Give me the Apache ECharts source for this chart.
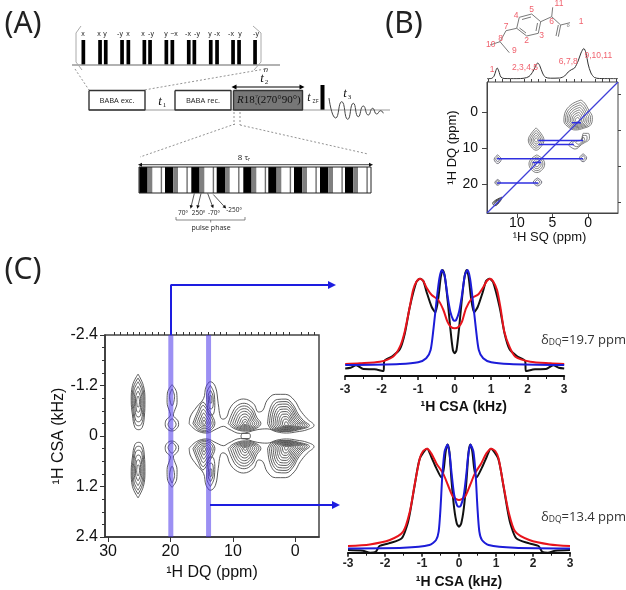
<!DOCTYPE html>
<html><head><meta charset="utf-8">
<style>html,body{margin:0;padding:0;background:#fff}#c{width:626px;height:590px}</style>
<script src="https://cdn.jsdelivr.net/npm/echarts@6/dist/echarts.min.js"></script>
</head><body><div id="c"></div>
<script>
// ---------- panel C: 1H CSA slices [kHz, intensity] ----------
const topRed=[[-3,.12],[-2.6,.127],[-2.05,.143],[-1.69,.193],[-1.5,.293],[-1.37,.443],[-1.23,.693],[-1.14,.86],[-1.05,.943],[-.95,.973],[-.86,.95],[-.77,.883],[-.63,.81],[-.45,.76],[-.31,.66],[-.2,.543],[-.11,.493],[0,.477],[.11,.493],[.2,.543],[.31,.677],[.47,.777],[.65,.817],[.79,.893],[.88,.95],[.97,.973],[1.06,.943],[1.16,.86],[1.25,.693],[1.36,.443],[1.5,.293],[1.66,.193],[2.07,.143],[2.62,.127],[3,.12]];
const topBlack=[[-3,.075],[-2.85,.083],[-2.7,.107],[-2.5,.07],[-2.2,.067],[-1.95,.05],[-1.93,.15],[-1.7,.2],[-1.5,.27],[-1.37,.42],[-1.23,.69],[-1.05,.94],[-.95,.973],[-.86,.95],[-.77,.84],[-.63,.69],[-.53,.637],[-.45,.777],[-.38,.993],[-.33,1.06],[-.27,.993],[-.19,.743],[-.12,.477],[-.05,.26],[0,.227],[.05,.26],[.12,.477],[.19,.743],[.27,.993],[.33,1.06],[.38,.993],[.45,.777],[.53,.637],[.63,.69],[.77,.84],[.86,.95],[.95,.973],[1.05,.94],[1.23,.69],[1.37,.42],[1.5,.27],[1.7,.2],[1.93,.15],[1.95,.05],[2.2,.067],[2.5,.07],[2.7,.107],[2.85,.083],[3,.075]];
const topBlue=[[-3,.11],[-1.5,.12],[-1,.137],[-.78,.177],[-.66,.26],[-.58,.477],[-.5,.743],[-.42,.977],[-.35,1.06],[-.28,1.01],[-.2,.81],[-.12,.643],[-.04,.56],[0,.553],[.04,.56],[.12,.643],[.2,.81],[.28,1.01],[.35,1.06],[.42,.977],[.5,.743],[.58,.477],[.66,.26],[.78,.177],[1,.137],[1.5,.12],[3,.11]];
const botRed=[[-3,.067],[-2.41,.083],[-1.87,.127],[-1.51,.21],[-1.33,.41],[-1.2,.677],[-1.06,.943],[-.97,1.017],[-.86,1.04],[-.75,.993],[-.61,.893],[-.43,.793],[-.3,.677],[-.16,.56],[0,.527],[.16,.56],[.3,.677],[.43,.793],[.6,.893],[.74,.993],[.87,1.04],[.98,1.017],[1.07,.943],[1.2,.677],[1.34,.41],[1.52,.21],[1.9,.127],[2.45,.083],[3,.067]];
const botBlack=[[-3,.027],[-2.6,.02],[-2.4,0],[-2.25,.01],[-2.15,.067],[-1.9,.093],[-1.55,.143],[-1.4,.277],[-1.33,.39],[-1.2,.67],[-1.06,.94],[-.86,1.04],[-.75,.96],[-.61,.843],[-.47,.75],[-.41,.843],[-.36,1.01],[-.31,1.083],[-.26,1.01],[-.2,.71],[-.13,.443],[-.06,.293],[0,.26],[.06,.293],[.13,.443],[.2,.71],[.26,1.01],[.31,1.083],[.36,1.01],[.41,.843],[.47,.75],[.61,.843],[.75,.96],[.86,1.04],[1.06,.94],[1.2,.67],[1.33,.39],[1.4,.277],[1.55,.143],[1.9,.093],[2.15,.067],[2.25,.01],[2.4,0],[2.6,.02],[3,.027]];
const botBlue=[[-3,.043],[-1.5,.05],[-.8,.077],[-.62,.127],[-.55,.21],[-.5,.443],[-.45,.777],[-.39,1.01],[-.31,1.083],[-.25,.977],[-.2,.793],[-.13,.577],[-.05,.47],[0,.46],[.05,.47],[.13,.577],[.2,.793],[.25,.977],[.31,1.083],[.39,1.01],[.45,.777],[.5,.443],[.55,.21],[.62,.127],[.8,.077],[1.5,.05],[3,.043]];
// ---------- panel C: 2D contours, upper half [ppm, kHz] ----------
const outerAll=[[17,-.29],[16.85,-.45],[15.8,-.69],[14.7,-.89],[14.3,-1.17],[13.6,-1.29],[12.8,-1.17],[12.35,-.77],[12,-.45],[11.6,-.4],[11,-.45],[10.5,-.65],[9.6,-.81],[8.3,-.88],[6.7,-.77],[5.9,-.57],[5.2,-.61],[4.5,-.85],[3.2,-.99],[1.6,-.99],[.16,-.85],[-.8,-.61],[-1.9,-.41],[-3,-.25],[-1.9,-.15],[-.27,-.1],[1.4,-.07],[3,-.1],[4.5,-.17],[6.1,-.15],[8.8,-.06],[10.7,-.17],[11.5,-.23],[12.6,-.17],[14.2,-.07],[15.8,-.13]];
const lobe25=[[25.2,-1.47],[24.35,-1.2],[24.1,-.85],[24.2,-.45],[24.55,-.2],[25.1,-.15],[25.7,-.2],[26.1,-.5],[26.3,-.85],[26.1,-1.2]];
const levels25=[1,.86,.72,.55,.38,.2];
const center25=[25.2,-.82];
const peanut20=[[19.75,-1.22],[19,-1.02],[18.95,-.8],[19.4,-.58],[19.55,-.5],[18.8,-.36],[18.7,-.27],[19.2,-.15],[19.75,-.12],[20.4,-.15],[20.85,-.27],[20.7,-.38],[20,-.5],[20.15,-.58],[20.55,-.8],[20.5,-1.02]];
const inner20a=[[19.75,-1.12],[19.35,-.94],[19.75,-.72],[20.15,-.94]];
const inner20b=[[19.75,-.42],[19.1,-.28],[19.75,-.16],[20.4,-.28]];
const lobe14=[[16.5,-.3],[15.7,-.6],[14.8,-.83],[14.1,-.7],[13.1,-.45],[12.8,-.3],[13.4,-.14],[14.5,-.09],[15.7,-.15]];
const levels14=[.95,.8,.62,.45,.28,.14];
const center14=[14.6,-.31];
const lobe13=[[13.6,-1.2],[13,-1],[12.9,-.72],[13.3,-.5],[13.8,-.5],[14.1,-.72],[14.2,-1]];
const levels13=[1,.62,.28];
const center13=[13.55,-.89];
const lobe8=[[11,-.3],[10.2,-.6],[9.4,-.76],[8.2,-.82],[6.8,-.7],[6,-.45],[5.3,-.3],[6,-.18],[8,-.1],[10,-.17]];
const levels8=[.92,.8,.68,.56,.44,.32,.2,.1];
const center8=[8,-.29];
const lobe1=[[4.7,-.3],[4.2,-.72],[3,-.92],[1.5,-.93],[.25,-.78],[-.6,-.55],[-1.6,-.37],[-2.6,-.25],[-.5,-.13],[1.5,-.09],[4,-.15]];
const levels1=[.92,.83,.74,.65,.56,.47,.38,.29,.2,.1];
const center1=[1.4,-.27];
const bridge8=[[8.5,-.06],[7.4,-.06],[7.2,0],[7.4,.06],[8.5,.06],[8.7,0]];
// ---------- panel B: 1D projection and 2D contours ----------
const proj1D=[[14.2,.3],[13.6,.5],[13.2,3],[12.95,8.5],[12.77,11],[12.55,8],[12.25,2],[11.8,.5],[10,.3],[9,.8],[8.3,2.5],[7.7,8],[7.3,14],[7.08,16],[6.8,13.5],[6.4,6],[6,1.8],[5.3,.8],[4,1],[3.3,3],[2.8,7],[2.3,9.5],[1.9,11],[1.4,18],[1,26],[.6,30.5],[.3,26],[0,15],[-.4,6],[-.9,1.5],[-1.6,.5],[-4.2,.3]];
const bTear=[[1,-3.3],[2.4,-2],[3.3,.5],[3.4,2.5],[2.7,4.3],[1.8,5],[.6,4.5],[-.4,3.5],[-.6,1.5],[-.1,-.5],[.5,-2.5]];
const bTearLevels=[1,.88,.76,.64,.52,.4,.28,.16];
const bTearCenter=[1.5,2.4];
const b7a=[[7.3,4.4],[6.6,6],[6.2,7.8],[6.6,9.6],[7.3,10.6],[8,9.6],[8.4,7.8],[8,6]];
const b7aLevels=[1,.8,.6,.4,.2];
const b7aCenter=[7.3,7.8];
const bTail=[[2.77,9.17],[2.2,8.05],[.89,7.78],[.66,5.93],[-.05,5.93],[-.19,7.31],[.89,8.98],[1.83,10.28]];
const bTailLevels=[1,.72,.42];
const bTailCenter=[1,8];
const b7b=[[7.2,11.9],[6.4,13],[6.1,14.4],[6.4,15.9],[7.2,16.8],[8,15.9],[8.3,14.4],[8,13]];
const b7bLevels=[1,.78,.55,.32];
const b7bCenter=[7.2,14.4];
const bSmall=[[[12.7,11.9],[12.2,13.1],[12.7,14.3],[13.2,13.1]],[[.7,11.6],[.2,12.7],[.7,13.8],[1.2,12.7]],[[7.1,18.3],[6.5,19.4],[7.1,20.5],[7.7,19.4]],[[12.7,18.7],[12.3,19.5],[12.7,20.3],[13.1,19.5]],[[12.1,23.6],[12.3,24.6],[13.1,26],[13.4,25.3]]];
const bSmallLevels=[1,.55];
const bLinks=[[[7,7.9],[.7,7.9]],[[7,9],[2,9]],[[12.8,13],[.7,13]],[[12.8,19.7],[7,19.7]],[[2.3,3],[1,3]],[[7.8,14],[6.6,14]]];
const bDiagonal=[[14.2,28],[-4.2,-8.3]];
// ---------- tick labels ----------
const bXTicks=[10,5,0], bXMinor=[14,13,12,11,9,8,7,6,4,3,2,1,-1,-2,-3,-4];
const bYTicks=[0,10,20], bYMinor=[-5,5,15,25];
const cXTicks=[30,20,10,0];
const cXMinor=[29,28,27,26,25,24,23,22,21,19,18,17,16,15,14,13,12,11,9,8,7,6,5,4,3,2,1,-1,-2,-3];
const dqSlices=[19.95,13.9];
// ---------- panel A pulse sequence (schematic page coordinates) ----------
const babaPulses=[83.3,100,105.7,122,128.3,144.3,150,166.3,172.3,188.7,194.3,210.7,217,233,239,255];
const babaLabels=[[83,'x'],[99,'x'],[105,'y'],[120,'-y'],[128,'x'],[143,'x'],[151,'-y'],[166,'y'],[174,'−x'],[188,'-x'],[197,'-y'],[210,'y'],[217,'-x'],[231,'-x'],[240,'y'],[256,'-y']];
const r18Black=[139.3,165,191.3,216.7,243.3,268.3,294,320,345];
const fidTrace=[[329,98],[335.7,118],[341.7,101.7],[347.7,119.3],[353.3,103.3],[358.3,116.7],[363.3,106],[368.3,115],[372.7,108.3],[376.7,114],[380.7,110.7],[383.3,113.3]];
const molBonds=[[[519.3,17.3],[531.7,14],[540.7,21.7],[538.3,33.3],[526.7,36],[516.7,28.3],[519.3,17.3]],[[522,19.5],[531,17]],[[537.5,23],[536,31]],[[526,33],[519.5,28]],[[516.7,28.3],[506,30.7],[500,41.7],[509.3,52.7]],[[500,41.7],[490,45]],[[540.7,21.7],[551.7,16.7],[552.7,7.3]],[[551.7,16.7],[560.7,25],[570,22.7]],[[560.7,25],[558.3,36.7]],[[558.3,25],[556,36]]];
const molLabels=[['11',559,4],['5',531.7,10],['4',516,15.3],['6',551.7,21.7],['1',581,22],['7',506,26.7],['3',541.7,35.3],['2',526.7,40.7],['8',500.7,38.7],['10',490.7,44.3],['9',514.3,51],['1',492,70],['2,3,4,5',525,67.7],['6,7,8',568.3,61.3],['9,10,11',598.3,56]];

// ---------- builders ----------
const nest=(o,c,lv)=>lv.map(k=>o.map(p=>[c[0]+(p[0]-c[0])*k,c[1]+(p[1]-c[1])*k]));
const close=p=>p.concat([p[0]]);
const flip=p=>p.map(q=>[q[0],-q[1]]);
const series=[];
const contour=(pts,xi,yi,color,w)=>series.push({type:'line',xAxisIndex:xi,yAxisIndex:yi,data:close(pts),smooth:.4,symbol:'none',silent:true,animation:false,lineStyle:{color,width:w},z:3});
const plain=(pts,xi,yi,color,w,extra)=>series.push(Object.assign({type:'line',xAxisIndex:xi,yAxisIndex:yi,data:pts,symbol:'none',silent:true,animation:false,lineStyle:Object.assign({color,width:w},(extra||{}).ls||{}),z:4},extra&&extra.s||{}));
const seg=(pts,color,w,dash)=>plain(pts,0,0,color,w,{ls:dash?{type:dash}:{},s:{z:6}});
const arrow=(pts,color,w,sz,both)=>{
  const rot=(a,b)=>Math.atan2(-(b[0]-a[0]),-(b[1]-a[1]))*180/Math.PI;
  const n=pts.length;
  const d=pts.map((p,i)=>{
    if(i===n-1) return {value:p,symbol:'triangle',symbolSize:sz,symbolRotate:rot(pts[n-2],p),itemStyle:{color}};
    if(i===0&&both) return {value:p,symbol:'triangle',symbolSize:sz,symbolRotate:rot(pts[1],p),itemStyle:{color}};
    return {value:p,symbol:'none'};
  });
  series.push({type:'line',xAxisIndex:0,yAxisIndex:0,data:d,showAllSymbol:true,symbol:'none',silent:true,animation:false,lineStyle:{color,width:w},z:6});
};
const rects=(list,color)=>series.push({type:'custom',xAxisIndex:0,yAxisIndex:0,data:list,silent:true,animation:false,z:5,encode:{x:0,y:1},
  renderItem:(p,api)=>{const a=api.coord([api.value(0),api.value(1)]),b=api.coord([api.value(0)+api.value(2),api.value(1)+api.value(3)]);
    return {type:'rect',shape:{x:a[0],y:a[1],width:b[0]-a[0],height:b[1]-a[1]},style:{fill:color}};}});

[p=>p,flip].forEach(f=>{
  const cs=(pts)=>contour(f(pts),3,3,'#4a4a4a',.9);
  nest(lobe25,center25,levels25).forEach(cs);
  cs(peanut20);cs(inner20a);cs(inner20b);
  cs(outerAll);
  nest(lobe14,center14,levels14).forEach(cs);
  nest(lobe13,center13,levels13).forEach(cs);
  nest(lobe8,center8,levels8).forEach(cs);
  nest(lobe1,center1,levels1).forEach(cs);
});
contour(bridge8,3,3,'#4a4a4a',.9);
dqSlices.forEach(v=>plain([[v,-2.4],[v,2.4]],3,3,'#4a35ea',5,{ls:{opacity:.55},s:{z:5}}));
[[topBlack,'#111'],[topRed,'#e8141c'],[topBlue,'#1c1cd8']].forEach(s=>plain(s[0],4,4,s[1],2,{s:{smooth:.25}}));
[[botBlack,'#111'],[botRed,'#e8141c'],[botBlue,'#1c1cd8']].forEach(s=>plain(s[0],5,5,s[1],2,{s:{smooth:.25}}));
const bc=(pts,col)=>contour(pts,1,1,col||'#606060',.8);
nest(bTear,bTearCenter,bTearLevels).forEach(p=>bc(p));
nest(b7a,b7aCenter,b7aLevels).forEach(p=>bc(p));
nest(bTail,bTailCenter,bTailLevels).forEach(p=>bc(p));
nest(b7b,b7bCenter,b7bLevels).forEach(p=>bc(p));
bSmall.forEach((s,i)=>{const c=[s.reduce((a,q)=>a+q[0],0)/4,s.reduce((a,q)=>a+q[1],0)/4];
  nest(s,c,i===4?[1,.7,.4]:bSmallLevels).forEach(p=>bc(p,i===4?'#111':'#505060'));});
plain(bDiagonal,1,1,'#3f3fd8',1.2);
bLinks.forEach(l=>plain(l,1,1,'#2f2fe0',1.5));
plain(proj1D,2,2,'#333',1,{s:{smooth:.3}});

rects(babaPulses.map(x=>[x-1.8,40,3.7,25]),'#000');
seg([[72,65],[280,65]],'#999',1.6);
seg([[81,26],[76,33],[76,62],[82,70]],'#aaa',1);
seg([[253,26],[261,33],[261,62],[254,70]],'#aaa',1);
seg([[75,69],[89,90]],'#777',.8,[2,2]);
seg([[265,69],[144,90]],'#777',.8,[2,2]);
seg([[89,110],[390,110]],'#999',1);
rects([[233.5,90.5,69,19.5]],'#777');
[[89,90.5,56,19.5],[175,90.5,56,19.5],[233.5,90.5,69,19.5]].forEach(b=>seg([[b[0],b[1]],[b[0]+b[2],b[1]],[b[0]+b[2],b[1]+b[3]],[b[0],b[1]+b[3]],[b[0],b[1]]],'#333',1.4));
rects([[320.5,85,4,25]],'#000');
arrow([[234,87],[302,87]],'#000',1,5,true);
plain(fidTrace,0,0,'#444',1,{s:{smooth:.6,z:6}});
seg([[234,112],[234,125]],'#777',.8,[2,2]);
seg([[240,112],[240,125]],'#777',.8,[2,2]);
seg([[235,124],[140,157]],'#777',.8,[2,2]);
seg([[240,125],[368,154]],'#777',.8,[2,2]);
arrow([[140,164.7],[371,164.7]],'#111',.8,4,true);
rects(r18Black.map(x=>[x,167,8.3,26]),'#000');
rects(r18Black.map(x=>[x+8.3,167,4.7,26]),'#808080');
rects(r18Black.map(x=>[x+21.4,167,1.4,26]),'#707070');
[[[139,167],[371,167],[371,193],[139,193],[139,167]]].forEach(p=>seg(p,'#222',1));
arrow([[194.3,193.5],[191,207]],'#111',.7,3.5);
arrow([[201,193.5],[197.7,207]],'#111',.7,3.5);
arrow([[207.7,193.5],[212.7,206.7]],'#111',.7,3.5);
arrow([[213.3,194.5],[225,207.3]],'#111',.7,3.5);
seg([[176,217],[176,220],[245,220],[245,217]],'#555',.7);
seg([[210.7,220],[210.7,222.5]],'#555',.7);
arrow([[171,335],[171,285],[332,285]],'#1d1de0',2,8);
arrow([[210,505],[336,505]],'#1d1de0',2,8);
molBonds.forEach(b=>seg(b,'#7a7a7a',1));

const serif='Liberation Serif';
const T=(x,y,text,size,o)=>Object.assign({type:'text',x,y,z:100,silent:true,style:Object.assign({text,fontSize:size,fontFamily:'Open Sans',fill:'#222',textAlign:'center',textVerticalAlign:'middle'},o||{})});
const ti={fontFamily:serif,fontStyle:'italic',fill:'#111'};
const dqRich={a:{fontFamily:'Open Sans',fontSize:13,fill:'#333'},b:{fontFamily:'Open Sans',fontSize:8.5,fill:'#333',verticalAlign:'bottom',padding:[5,0,0,0]}};
const graphic=[
 T(23,24,'(A)',30,{fontFamily:'Noto Sans'}),T(404,24,'(B)',30,{fontFamily:'Noto Sans'}),T(23,270,'(C)',30,{fontFamily:'Noto Sans'}),
 T(117,101,'BABA exc.',7.5),T(203,101,'BABA rec.',7.5),
 T(237,100.5,'{i|R}{n|18}{c|₅}{n|(270°90°)}',11,{textAlign:'left',rich:{i:{fontFamily:serif,fontStyle:'italic',fontSize:11,fill:'#111'},n:{fontFamily:serif,fontSize:11,fill:'#111'},c:{fontFamily:serif,fontSize:7,fill:'#111',verticalAlign:'bottom'}}}),
 T(256.5,97,'7',5,{fontFamily:serif,fill:'#111'}),
 T(160,102,'t',13,ti),T(164.5,105,'1',7,{fontFamily:serif}),
 T(262,79,'t',13,ti),T(266.5,82,'2',7,{fontFamily:serif}),
 T(309,98,'t',12,ti),T(315.5,101,'ZF',5.5),
 T(345,94,'t',13,ti),T(349.5,97,'3',7,{fontFamily:serif}),
 T(266,70,'n',7.5,{fontStyle:'italic'}),
 T(243,158,'8 τ',8),T(249,160,'r',5),
 T(183,213,'70º',6.5),T(198.5,213,'250º',6.5),T(214,213,'-70º',6.5),T(234,210,'-250º',6.5),
 T(211,227.5,'pulse phase',7),
 T(541,340,'{a|δ}{b|DQ}{a|=19.7 ppm}',13,{textAlign:'left',rich:dqRich}),
 T(541,517,'{a|δ}{b|DQ}{a|=13.4 ppm}',13,{textAlign:'left',rich:dqRich}),
 T(568,26,'O',3.5,{fontFamily:'Liberation Sans'})
];
babaLabels.forEach(l=>graphic.push(T(l[0],34,l[1],7,{fontFamily:'Liberation Sans'})));
molLabels.forEach(l=>graphic.push(T(l[1],l[2],l[0],8.5,{fontFamily:'Liberation Sans',fill:'#f0626e'})));

const font='Liberation Sans';
const hidden={type:'value',show:false};
const lineB={onZero:false,lineStyle:{color:'#444'}}, lineC={onZero:false,lineStyle:{color:'#333',width:1.5}}, lineS={onZero:false,lineStyle:{color:'#111',width:2}};
const noLine={show:false,onZero:false};
const xAxis=[
 Object.assign({},hidden,{gridIndex:0,min:0,max:626}),
 {type:'value',gridIndex:1,min:-4.2,max:14.2,inverse:true,splitLine:{show:false},axisLine:lineB,axisTick:{customValues:bXTicks,length:5,lineStyle:{color:'#444'}},axisLabel:{customValues:bXTicks,fontFamily:font,fontSize:14,color:'#111',margin:3},name:'¹H SQ (ppm)',nameLocation:'middle',nameGap:18,nameTextStyle:{fontFamily:font,fontSize:13,color:'#111',padding:[0,6,0,0]}},
 Object.assign({},hidden,{gridIndex:2,min:-4.2,max:14.2,inverse:true}),
 {type:'value',gridIndex:3,min:-3.8,max:30.5,inverse:true,splitLine:{show:false},axisLine:lineC,axisTick:{customValues:cXTicks,length:5,lineStyle:{color:'#333'}},axisLabel:{customValues:cXTicks,fontFamily:font,fontSize:16,color:'#111',margin:7},name:'¹H DQ (ppm)',nameLocation:'middle',nameGap:28,nameTextStyle:{fontFamily:font,fontSize:16,color:'#111'}},
 {type:'value',gridIndex:4,min:-3,max:3,interval:1,splitLine:{show:false},axisLine:lineS,axisTick:{length:4,lineStyle:{color:'#111',width:1.5}},minorTick:{show:true,splitNumber:2,length:3,lineStyle:{color:'#111'}},axisLabel:{fontFamily:font,fontSize:12,fontWeight:'bold',color:'#222',margin:8,formatter:v=>String(v)},name:'¹H CSA (kHz)',nameLocation:'middle',nameGap:24,nameTextStyle:{fontFamily:font,fontSize:14,fontWeight:'bold',color:'#111',padding:[0,0,0,18]}},
 {type:'value',gridIndex:5,min:-3,max:3,interval:1,splitLine:{show:false},axisLine:lineS,axisTick:{length:4,lineStyle:{color:'#111',width:1.5}},minorTick:{show:true,splitNumber:2,length:3,lineStyle:{color:'#111'}},axisLabel:{fontFamily:font,fontSize:12,fontWeight:'bold',color:'#222',margin:5,formatter:v=>String(v)},name:'¹H CSA (kHz)',nameLocation:'middle',nameGap:22,nameTextStyle:{fontFamily:font,fontSize:14,fontWeight:'bold',color:'#111'}},
 {type:'value',gridIndex:1,min:-4.2,max:14.2,inverse:true,splitLine:{show:false},axisLine:noLine,axisTick:{customValues:bXMinor,length:3,lineStyle:{color:'#444'}},axisLabel:{show:false}},
 {type:'value',gridIndex:3,min:-3.8,max:30.5,inverse:true,splitLine:{show:false},axisLine:noLine,axisTick:{customValues:cXMinor,length:3,lineStyle:{color:'#333'}},axisLabel:{show:false}}
];
const yAxis=[
 Object.assign({},hidden,{gridIndex:0,min:0,max:590,inverse:true}),
 {type:'value',gridIndex:1,min:-8.3,max:28,inverse:true,splitLine:{show:false},axisLine:lineB,axisTick:{customValues:bYTicks,length:5,lineStyle:{color:'#444'}},axisLabel:{customValues:bYTicks,fontFamily:font,fontSize:14,color:'#111',margin:9},name:'¹H DQ (ppm)',nameLocation:'middle',nameGap:18,nameTextStyle:{fontFamily:font,fontSize:13,color:'#111'}},
 Object.assign({},hidden,{gridIndex:2,min:0,max:35}),
 {type:'value',gridIndex:3,min:-2.4,max:2.4,interval:1.2,inverse:true,splitLine:{show:false},axisLine:lineC,axisTick:{length:5,lineStyle:{color:'#333'}},minorTick:{show:true,splitNumber:4,length:3,lineStyle:{color:'#333'}},axisLabel:{fontFamily:font,fontSize:16,color:'#111',margin:7,formatter:v=>String(v)},name:'¹H CSA (kHz)',nameLocation:'middle',nameGap:34,nameTextStyle:{fontFamily:font,fontSize:16,color:'#111'}},
 Object.assign({},hidden,{gridIndex:4,min:0,max:1.11}),
 Object.assign({},hidden,{gridIndex:5,min:0,max:1.177}),
 {type:'value',gridIndex:1,min:-8.3,max:28,inverse:true,splitLine:{show:false},axisLine:noLine,axisTick:{customValues:bYMinor,length:3,lineStyle:{color:'#444'}},axisLabel:{show:false}}
];
const chart=echarts.init(document.getElementById('c'),null,{renderer:'canvas'});
chart.setOption({
 animation:false,backgroundColor:'#fff',
 grid:[
  {left:0,top:0,width:626,height:590},
  {left:487,top:82,width:131,height:131,show:true,borderColor:'#444',borderWidth:1,backgroundColor:'transparent'},
  {left:487,top:44,width:131,height:35},
  {left:105,top:335,width:214,height:202,show:true,borderColor:'#444',borderWidth:1.5,backgroundColor:'transparent'},
  {left:345.2,top:265,width:219,height:111},
  {left:348,top:435,width:222,height:117.7}
 ],
 xAxis,yAxis,series,graphic
});
</script></body></html>
